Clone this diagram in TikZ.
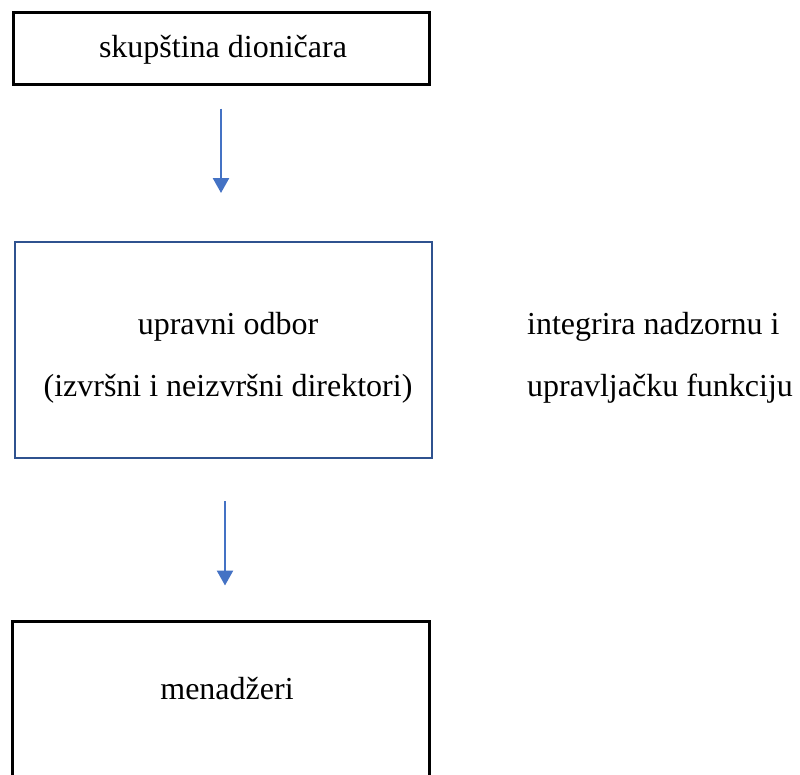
\documentclass[tikz,border=0pt]{standalone}
\usepackage{fontspec}
\setmainfont{Liberation Serif}
\usetikzlibrary{arrows.meta}
\definecolor{arrowblue}{RGB}{68,114,196}
\definecolor{boxblue}{RGB}{47,82,143}
\begin{document}
\begin{tikzpicture}[x=1pt,y=1pt,
  txt/.style={font=\fontsize{32}{62}\selectfont, inner sep=0pt},
  blackbox/.style={draw=black, line width=3pt, inner sep=0pt},
  bluebox/.style={draw=boxblue, line width=2pt, inner sep=0pt},
  arr/.style={draw=arrowblue, line width=2.5pt, -{Triangle[width=16pt,length=15pt]}}]
\useasboundingbox (0,0) rectangle (800,-774);
\node[blackbox, minimum width=416pt, minimum height=72pt] (b1) at (221,-48) {};
\node[txt] (b1t) at (223,-50) {skupština dioničara};
\node[bluebox, minimum width=417pt, minimum height=216pt] (b2) at (223,-350) {};
\node[txt, align=center] (b2t) at (228,-358) {upravni odbor\\(izvršni i neizvršni direktori)};
\node[txt, align=left, anchor=west] (side) at (527,-358) {integrira nadzornu i\\upravljačku funkciju};
\node[blackbox, minimum width=417pt, minimum height=200pt] (b3) at (221,-721) {};
\node[txt] (b3t) at (227,-689) {menadžeri};
\draw[arr, shorten <=23pt, shorten >=48pt] (b1.south) -- (b1.south |- b2.north);
\draw[arr, shorten <=42pt, shorten >=34pt] ([xshift=2pt]b2.south) -- ([xshift=2pt]b2.south |- b3.north);
\end{tikzpicture}
\end{document}
